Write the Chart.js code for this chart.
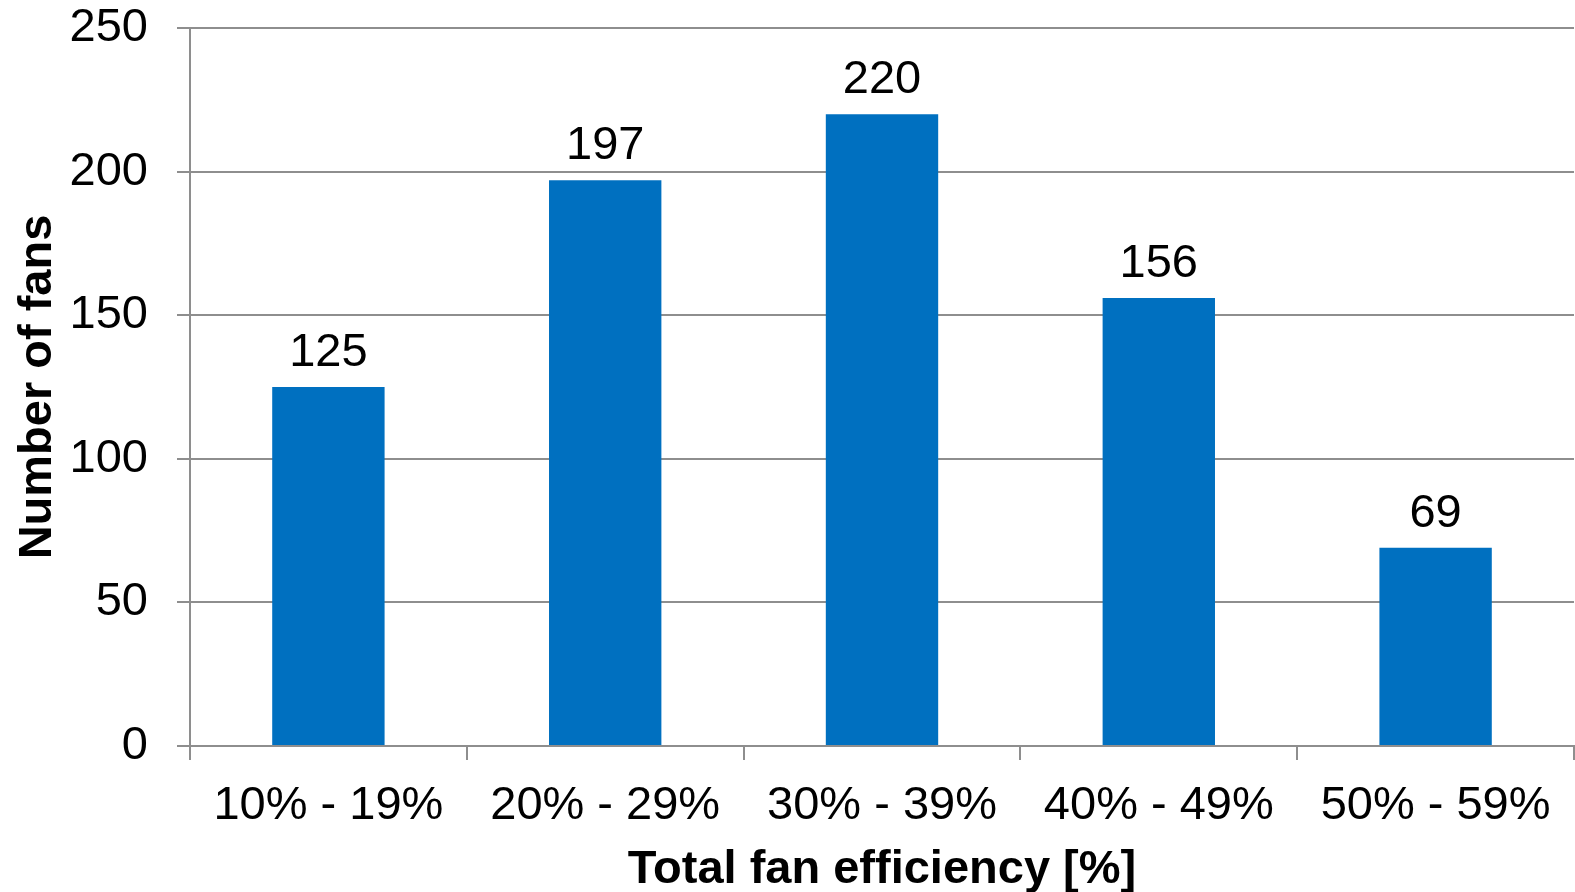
<!DOCTYPE html>
<html>
<head>
<meta charset="utf-8">
<title>Total fan efficiency</title>
<script src="https://cdn.jsdelivr.net/npm/chart.js@4/dist/chart.umd.min.js"></script>
<style>
  html, body { margin: 0; padding: 0; background: #ffffff; }
  #wrap { width: 1575px; height: 892px; }
</style>
</head>
<body>
<div id="wrap"><canvas id="chart" width="1575" height="892"></canvas></div>
<script>
// Efficiency bands and the number of fans counted in each
const categories = ['10% - 19%', '20% - 29%', '30% - 39%', '40% - 49%', '50% - 59%'];
const fanCounts = [125, 197, 220, 156, 69];
const yTicks = [0, 50, 100, 150, 200, 250];

const FONT = "'Liberation Sans', Arial, Helvetica, sans-serif";
const GRID = '#8e8e8e';
const BAR = '#0070C0';

// Writes each bar's value just above its top edge
const valueLabels = {
  id: 'valueLabels',
  afterDatasetsDraw(chart) {
    const ctx = chart.ctx;
    const meta = chart.getDatasetMeta(0);
    ctx.save();
    ctx.font = '47px ' + FONT;
    ctx.fillStyle = '#000000';
    ctx.textAlign = 'center';
    ctx.textBaseline = 'alphabetic';
    meta.data.forEach((bar, i) => {
      ctx.fillText(String(fanCounts[i]), bar.x, bar.y - 21);
    });
    ctx.restore();
  }
};

new Chart(document.getElementById('chart'), {
  type: 'bar',
  data: {
    labels: categories,
    datasets: [{
      data: fanCounts,
      backgroundColor: BAR,
      borderWidth: 0,
      categoryPercentage: 1,
      barPercentage: 0.406
    }]
  },
  options: {
    responsive: false,
    animation: false,
    events: [],
    layout: { padding: { top: 0, right: 1, left: 0, bottom: 0 } },
    plugins: {
      legend: { display: false },
      tooltip: { enabled: false }
    },
    scales: {
      x: {
        offset: true,
        grid: {
          offset: true,
          drawOnChartArea: false,
          drawTicks: true,
          tickLength: 14,
          color: GRID,
          lineWidth: 2
        },
        border: { display: true, color: GRID, width: 2 },
        ticks: {
          color: '#000000',
          font: { family: FONT, size: 47 },
          padding: 18,
          maxRotation: 0,
          autoSkip: false
        },
        title: {
          display: true,
          text: 'Total fan efficiency [%]',
          color: '#000000',
          font: { family: FONT, size: 47, weight: 'bold', lineHeight: 0.8 },
          padding: { top: 0, bottom: 3 }
        },
        afterFit(scale) { scale.height = 146; }
      },
      y: {
        min: 0,
        max: 250,
        afterBuildTicks(scale) { scale.ticks = yTicks.map(v => ({ value: v })); },
        grid: {
          drawOnChartArea: true,
          drawTicks: true,
          tickLength: 13,
          color: GRID,
          lineWidth: 2
        },
        border: { display: true, color: GRID, width: 2 },
        ticks: {
          color: '#000000',
          font: { family: FONT, size: 47 },
          padding: 29
        },
        title: {
          display: true,
          text: 'Number of fans',
          color: '#000000',
          font: { family: FONT, size: 47, weight: 'bold', lineHeight: 1 },
          padding: { top: 15, bottom: 0 }
        },
        afterFit(scale) {
          scale.width = 190;
          scale.paddingTop = 28;
          scale.paddingBottom = 0;
        }
      }
    }
  },
  plugins: [valueLabels]
});
</script>
</body>
</html>
